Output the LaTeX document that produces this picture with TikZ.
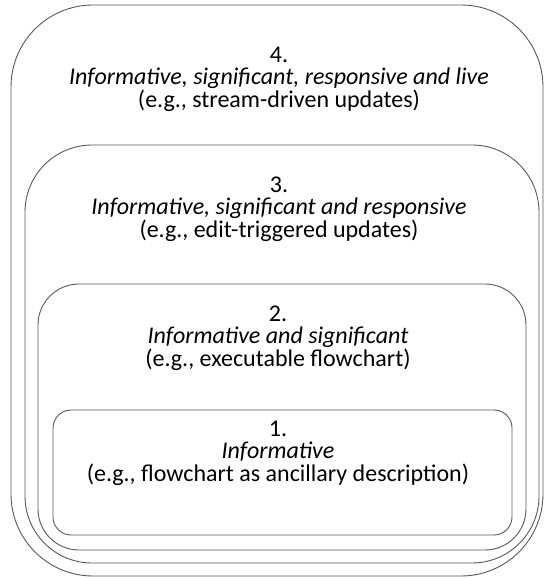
\documentclass[tikz,border=0pt]{standalone}
\usepackage{fontspec}
\setmainfont{Carlito}
\tikzset{
  layer/.style={draw=black!65,line width=0.9pt},
  caption/.style={align=center,font=\fontsize{24}{22.5}\selectfont,inner sep=0pt}
}
\begin{document}
\begin{tikzpicture}[x=1pt,y=-1pt]
\useasboundingbox (0,0) rectangle (544,578);
% nested levels, outermost first
\foreach \l/\t/\r/\b/\rad in {11/5/543/576/82, 25/145/539/563/67, 38/284/526/550/41, 53/410/512/535/18}{
	\draw[layer,rounded corners=\rad pt] (\l,\t) rectangle (\r,\b);}
\node[caption] (live) at (279,79) {4.\\ \textit{Informative,\ significant,\ responsive\ and\ live}\\ (e.g., stream-driven updates)};
\node[caption] (responsive) at (279,209) {3.\\ \textit{Informative,\ significant\ and\ responsive}\\ (e.g., edit-triggered updates)};
\node[caption] (significant) at (278,338) {2.\\ \textit{Informative and significant}\\ (e.g., executable flowchart)};
\node[caption] (informative) at (278,453) {1.\\ \textit{Informative}\\ (e.g., flowchart as ancillary description)};
\end{tikzpicture}
\end{document}
